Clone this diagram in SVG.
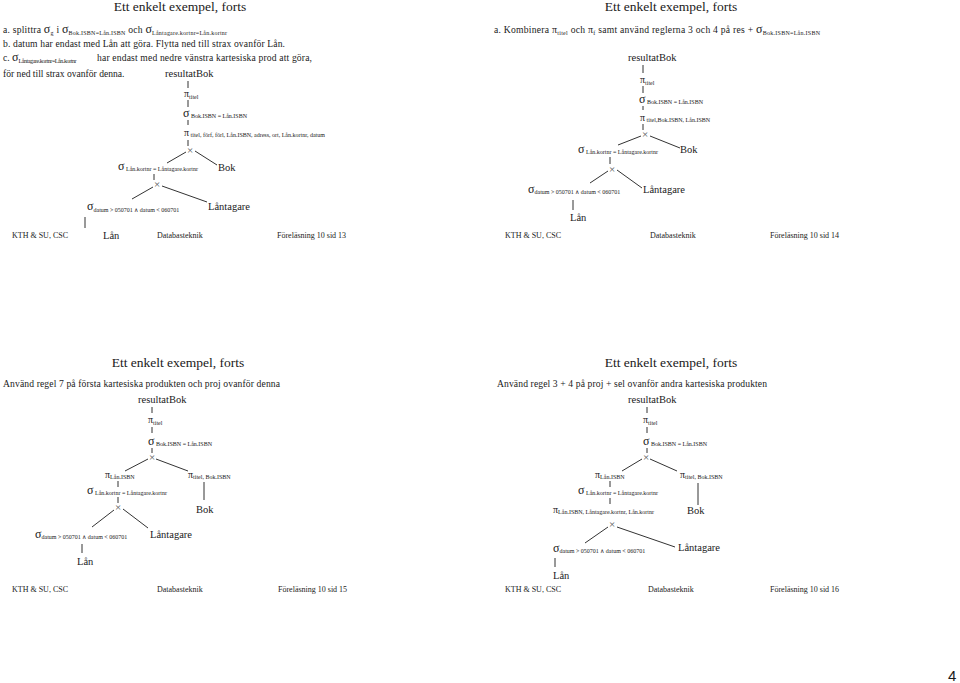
<svg xmlns="http://www.w3.org/2000/svg" width="960" height="683" viewBox="0 0 960 683">
<style>
text{font-family:"Liberation Serif","Times New Roman",serif;fill:#1a1a1a}
.title{font-size:13.5px;text-anchor:middle}
.body{font-size:9.6px}
.res{font-size:10.5px}
.node{font-size:10.5px}
.gk{font-size:12px}
.pi{font-size:10px}
.sub{font-size:6px}
.foot{font-size:8px}
.x{font-size:11px;text-anchor:middle;fill:#555}
.num{font-family:"Liberation Sans",Arial,sans-serif;font-size:15px}
line{stroke:#333;stroke-width:1}
</style>
<rect width="960" height="683" fill="#fff"/>

<!-- ================= SLIDE 13 ================= -->
<g id="s13-text">
<text class="title" x="180" y="11">Ett enkelt exempel, forts</text>
<text class="body" x="3" y="33" textLength="224">a. splittra <tspan class="gk">σ</tspan><tspan class="sub" dy="2">g</tspan><tspan dy="-2"> i </tspan><tspan class="gk">σ</tspan><tspan class="sub" dy="2">Bok.ISBN=Lån.ISBN</tspan><tspan dy="-2">  och </tspan><tspan class="gk">σ</tspan><tspan class="sub" dy="2">Låntagare.kortnr=Lån.kortnr</tspan></text>
<text class="body" x="3" y="47" textLength="282">b. datum har endast med Lån att göra. Flytta ned till strax ovanför Lån.</text>
<text class="body" x="3" y="61">c. <tspan class="gk">σ</tspan><tspan class="sub" dy="2" textLength="58">Låntagare.kortnr=Lån.kortnr</tspan></text>
<text class="body" x="97" y="61" textLength="215">har endast med nedre vänstra kartesiska prod att göra,</text>
<text class="body" x="3" y="77">för ned till strax ovanför denna.</text>
<text class="foot" x="12" y="238">KTH &amp; SU, CSC</text>
<text class="foot" x="157" y="238">Databasteknik</text>
<text class="foot" x="277" y="238">Föreläsning 10 sid 13</text>
</g>
<g id="s13-connectors">
<line x1="188" y1="81" x2="188" y2="88"/>
<line x1="188" y1="100" x2="188" y2="107"/>
<line x1="188" y1="120" x2="188" y2="125"/>
<line x1="188" y1="140" x2="188" y2="146"/>
<line x1="186" y1="152" x2="167" y2="163"/>
<line x1="195" y1="151" x2="217" y2="165"/>
<line x1="154" y1="174" x2="154" y2="180"/>
<line x1="153" y1="187" x2="132" y2="199"/>
<line x1="162" y1="186" x2="207" y2="202"/>
<line x1="85" y1="217" x2="85" y2="228"/>
</g>
<g id="s13-res"><text class="res" x="165" y="77">resultatBok</text></g>
<g id="s13-pi1"><text class="pi" x="184" y="97">π<tspan class="sub" dy="2">titel</tspan></text></g>
<g id="s13-sel1"><text class="gk" x="183" y="117">σ<tspan class="sub" dy="1"> Bok.ISBN = Lån.ISBN</tspan></text></g>
<g id="s13-pi2"><text class="pi" x="184" y="136">π<tspan class="sub" dy="1"> titel, förf, förl, Lån.ISBN,  adress,  ort, Lån.kortnr,  datum</tspan></text></g>
<g id="s13-x1"><text class="x" x="190" y="154">×</text></g>
<g id="s13-sel2"><text class="gk" x="118" y="170">σ<tspan class="sub" dy="1"> Lån.kortnr = Låntagare.kortnr</tspan></text></g>
<g id="s13-bok"><text class="node" x="218" y="171">Bok</text></g>
<g id="s13-x2"><text class="x" x="157" y="188">×</text></g>
<g id="s13-sel3"><text class="gk" x="87" y="210">σ<tspan class="sub" dy="2">datum  &gt; 050701 ∧ datum &lt; 060701</tspan></text></g>
<g id="s13-lantagare"><text class="node" x="208" y="210">Låntagare</text></g>
<g id="s13-lan"><text class="node" x="103" y="239">Lån</text></g>

<!-- ================= SLIDE 14 ================= -->
<g id="s14-text">
<text class="title" x="671" y="11">Ett enkelt exempel, forts</text>
<text class="body" x="494" y="33" textLength="326">a.  Kombinera <tspan class="pi">π</tspan><tspan class="sub" dy="2">titel</tspan><tspan dy="-2"> och </tspan><tspan class="pi">π</tspan><tspan class="sub" dy="2">f</tspan><tspan dy="-2"> samt använd reglerna  3 och 4 på res + </tspan><tspan class="gk">σ</tspan><tspan class="sub" dy="2">Bok.ISBN=Lån.ISBN</tspan></text>
<text class="foot" x="505" y="238">KTH &amp; SU, CSC</text>
<text class="foot" x="650" y="238">Databasteknik</text>
<text class="foot" x="770" y="238">Föreläsning 10 sid 14</text>
</g>
<g id="s14-connectors">
<line x1="643" y1="65" x2="643" y2="73"/>
<line x1="643" y1="86" x2="643" y2="93"/>
<line x1="643" y1="106" x2="643" y2="110"/>
<line x1="643" y1="124" x2="643" y2="130"/>
<line x1="641" y1="136" x2="618" y2="145"/>
<line x1="650" y1="136" x2="680" y2="148"/>
<line x1="610" y1="157" x2="610" y2="164"/>
<line x1="608" y1="171" x2="590" y2="183"/>
<line x1="617" y1="170" x2="642" y2="188"/>
<line x1="573" y1="200" x2="573" y2="210"/>
</g>
<g id="s14-res"><text class="res" x="628" y="61">resultatBok</text></g>
<g id="s14-pi1"><text class="pi" x="640" y="83">π<tspan class="sub" dy="2">titel</tspan></text></g>
<g id="s14-sel1"><text class="gk" x="639" y="103">σ<tspan class="sub" dy="1"> Bok.ISBN  = Lån.ISBN</tspan></text></g>
<g id="s14-pi2"><text class="pi" x="640" y="121">π<tspan class="sub" dy="1"> titel,Bok.ISBN,  Lån.ISBN</tspan></text></g>
<g id="s14-x1"><text class="x" x="645" y="138">×</text></g>
<g id="s14-sel2"><text class="gk" x="578" y="153">σ<tspan class="sub" dy="1"> Lån.kortnr = Låntagare.kortnr</tspan></text></g>
<g id="s14-bok"><text class="node" x="680" y="153">Bok</text></g>
<g id="s14-x2"><text class="x" x="612" y="173">×</text></g>
<g id="s14-sel3"><text class="gk" x="528" y="193">σ<tspan class="sub" dy="1">datum &gt; 050701  ∧ datum &lt; 060701</tspan></text></g>
<g id="s14-lantagare"><text class="node" x="643" y="193">Låntagare</text></g>
<g id="s14-lan"><text class="node" x="570" y="221">Lån</text></g>

<!-- ================= SLIDE 15 ================= -->
<g id="s15-text">
<text class="title" x="178" y="367">Ett enkelt exempel, forts</text>
<text class="body" x="3" y="387" textLength="277">Använd regel 7 på första kartesiska produkten och proj ovanför denna</text>
<text class="foot" x="12" y="592">KTH &amp; SU, CSC</text>
<text class="foot" x="157" y="592">Databasteknik</text>
<text class="foot" x="278" y="592">Föreläsning 10 sid 15</text>
</g>
<g id="s15-connectors">
<line x1="152" y1="407" x2="152" y2="413"/>
<line x1="152" y1="427" x2="152" y2="433"/>
<line x1="152" y1="448" x2="152" y2="453"/>
<line x1="148" y1="459" x2="125" y2="471"/>
<line x1="156" y1="459" x2="188" y2="471"/>
<line x1="118" y1="481" x2="118" y2="487"/>
<line x1="118" y1="497" x2="118" y2="503"/>
<line x1="114" y1="510" x2="92" y2="527"/>
<line x1="123" y1="509" x2="148" y2="528"/>
<line x1="82" y1="544" x2="82" y2="553"/>
<line x1="204" y1="482" x2="204" y2="500"/>
</g>
<g id="s15-res"><text class="res" x="138" y="403">resultatBok</text></g>
<g id="s15-pi1"><text class="pi" x="148" y="423">π<tspan class="sub" dy="2">titel</tspan></text></g>
<g id="s15-sel1"><text class="gk" x="148" y="445">σ<tspan class="sub" dy="1"> Bok.ISBN = Lån.ISBN</tspan></text></g>
<g id="s15-x1"><text class="x" x="152" y="461">×</text></g>
<g id="s15-pi2"><text class="pi" x="105" y="478">π<tspan class="sub" dy="1">Lån.ISBN</tspan></text></g>
<g id="s15-pi3"><text class="pi" x="188" y="478">π<tspan class="sub" dy="1">titel, Bok.ISBN</tspan></text></g>
<g id="s15-sel2"><text class="gk" x="87" y="494">σ<tspan class="sub" dy="1"> Lån.kortnr = Låntagare.kortnr</tspan></text></g>
<g id="s15-x2"><text class="x" x="118" y="511">×</text></g>
<g id="s15-bok"><text class="node" x="196" y="513">Bok</text></g>
<g id="s15-sel3"><text class="gk" x="35" y="538">σ<tspan class="sub" dy="1">datum &gt; 050701  ∧ datum &lt; 060701</tspan></text></g>
<g id="s15-lantagare"><text class="node" x="150" y="538">Låntagare</text></g>
<g id="s15-lan"><text class="node" x="77" y="565">Lån</text></g>

<!-- ================= SLIDE 16 ================= -->
<g id="s16-text">
<text class="title" x="671" y="367">Ett enkelt exempel, forts</text>
<text class="body" x="497" y="387" textLength="270">Använd regel 3 + 4 på proj + sel ovanför andra kartesiska produkten</text>
<text class="foot" x="505" y="592">KTH &amp; SU, CSC</text>
<text class="foot" x="648" y="592">Databasteknik</text>
<text class="foot" x="770" y="592">Föreläsning 10 sid 16</text>
</g>
<g id="s16-connectors">
<line x1="647" y1="407" x2="647" y2="413"/>
<line x1="647" y1="427" x2="647" y2="433"/>
<line x1="647" y1="448" x2="647" y2="453"/>
<line x1="642" y1="459" x2="622" y2="471"/>
<line x1="650" y1="459" x2="677" y2="471"/>
<line x1="610" y1="481" x2="610" y2="487"/>
<line x1="610" y1="498" x2="610" y2="504"/>
<line x1="608" y1="527" x2="585" y2="543"/>
<line x1="617" y1="527" x2="675" y2="547"/>
<line x1="555" y1="558" x2="555" y2="567"/>
<line x1="698" y1="483" x2="698" y2="505"/>
</g>
<g id="s16-res"><text class="res" x="628" y="403">resultatBok</text></g>
<g id="s16-pi1"><text class="pi" x="643" y="423">π<tspan class="sub" dy="2">titel</tspan></text></g>
<g id="s16-sel1"><text class="gk" x="643" y="445">σ<tspan class="sub" dy="1"> Bok.ISBN  = Lån.ISBN</tspan></text></g>
<g id="s16-x1"><text class="x" x="646" y="461">×</text></g>
<g id="s16-pi2"><text class="pi" x="595" y="478">π<tspan class="sub" dy="1">Lån.ISBN</tspan></text></g>
<g id="s16-pi3"><text class="pi" x="680" y="478">π<tspan class="sub" dy="1">titel, Bok.ISBN</tspan></text></g>
<g id="s16-sel2"><text class="gk" x="578" y="494">σ<tspan class="sub" dy="1"> Lån.kortnr = Låntagare.kortnr</tspan></text></g>
<g id="s16-pi4"><text class="pi" x="553" y="513">π<tspan class="sub" dy="1">Lån.ISBN, Låntagare.kortnr,  Lån.kortnr</tspan></text></g>
<g id="s16-bok"><text class="node" x="687" y="514">Bok</text></g>
<g id="s16-x2"><text class="x" x="612" y="528">×</text></g>
<g id="s16-lantagare"><text class="node" x="678" y="551">Låntagare</text></g>
<g id="s16-sel3"><text class="gk" x="553" y="552">σ<tspan class="sub" dy="1">datum &gt; 050701  ∧ datum &lt; 060701</tspan></text></g>
<g id="s16-lan"><text class="node" x="553" y="579">Lån</text></g>

<g id="page-number"><text class="num" x="948" y="681">4</text></g>
</svg>
